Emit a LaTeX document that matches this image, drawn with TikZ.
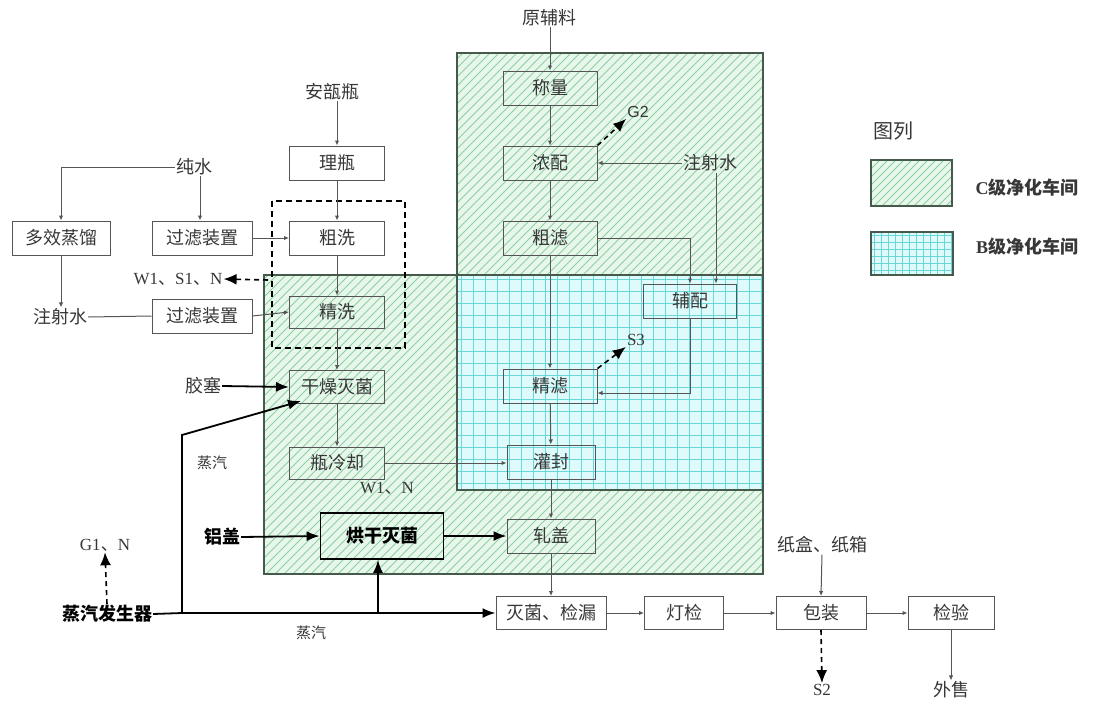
\documentclass[tikz,border=0pt]{standalone}
\usepackage{fontspec}
\setmainfont{Liberation Serif}
\setsansfont{Liberation Sans}
\newfontfamily\cjk{Noto Sans CJK SC}
\usetikzlibrary{arrows.meta}
\definecolor{cfill}{RGB}{232,247,236}
\definecolor{chatch}{RGB}{140,208,155}
\definecolor{bfill}{RGB}{222,250,250}
\definecolor{bgrid}{RGB}{105,215,215}
\definecolor{regc}{RGB}{70,90,75}
\definecolor{boxc}{RGB}{85,85,85}
\definecolor{txtc}{RGB}{55,55,55}
\begin{document}
\begin{tikzpicture}[x=1pt,y=-1pt,
  box/.style={draw=boxc,line width=1pt,inner sep=0pt,minimum height=34pt,text=txtc,font=\cjk\fontsize{18}{18}\selectfont},
  lbl/.style={inner sep=1pt,text=txtc,font=\cjk\fontsize{18}{18}\selectfont},
  small/.style={inner sep=1pt,text=txtc,font=\cjk\fontsize{15}{15}\selectfont},
  latin/.style={inner sep=1pt,text=txtc,font=\rmfamily\fontsize{17}{17}\selectfont},
  bold/.style={inner sep=1pt,text=black,font=\cjk\bfseries\fontsize{18}{18}\selectfont},
  arr/.style={draw=boxc,line width=1pt,-{Latex[length=5pt,width=4.5pt]}},
  thinline/.style={draw=boxc,line width=1pt},
  tarr/.style={draw=black,line width=1.8pt,-{Latex[length=13pt,width=10pt]}},
  darr/.style={draw=black,line width=1.6pt,dashed,dash pattern=on 5pt off 4pt,-{Latex[length=13pt,width=11pt]}},
]
\useasboundingbox (0,0) rectangle (1098,704);
\fill[white] (0,0) rectangle (1098,704);

% ---- C region (green hatched)
\begin{scope}
  \clip (457,53) -- (763,53) -- (763,574) -- (264,574) -- (264,275) -- (457,275) -- cycle;
  \fill[cfill] (250,40) rectangle (780,590);
  \foreach \c in {300,309,...,1350} \draw[chatch,line width=1pt] (\c-620,620) -- (\c-30,30);
\end{scope}
% ---- B region (cyan grid)
\begin{scope}
  \clip (457,275) rectangle (763,490);
  \fill[bfill] (457,275) rectangle (763,490);
  \foreach \x in {461,473,...,763} \draw[bgrid,line width=0.9pt] (\x,275) -- (\x,490);
  \foreach \y in {279,291,...,490} \draw[bgrid,line width=0.9pt] (457,\y) -- (763,\y);
\end{scope}
\draw[regc,line width=1.2pt] (457,53) -- (763,53) -- (763,574) -- (264,574) -- (264,275) -- (457,275) -- cycle;
\draw[regc,line width=1.2pt] (457,275) rectangle (763,490);

% dashed frame around washing
\draw[black,line width=1.3pt,dashed,dash pattern=on 6pt off 4pt] (272,201) rectangle (405,348);

% ---- boxes
\node[box,minimum width=94pt] (cl) at (550,88) {称量};
\node[box,minimum width=94pt] (nd) at (550,163) {浓配};
\node[box,minimum width=94pt] (cu) at (550,238) {粗滤};
\node[box,minimum width=93pt] (fp) at (690,301) {辅配};
\node[box,minimum width=94pt] (jl) at (550,386) {精滤};
\node[box,minimum width=88pt] (gf) at (551,462) {灌封};
\node[box,minimum width=88pt] (zg) at (551,536) {轧盖};
\node[box,minimum width=110pt,minimum height=33pt] (mj) at (551,613) {灭菌、检漏};
\node[box,minimum width=79pt,minimum height=33pt] (dj) at (684,613) {灯检};
\node[box,minimum width=90pt,minimum height=33pt] (bz) at (821,613) {包装};
\node[box,minimum width=86pt,minimum height=33pt] (jy) at (951,613) {检验};
\node[box,minimum width=95pt] (lp) at (337,163) {理瓶};
\node[box,minimum width=95pt] (cx) at (337,238) {粗洗};
\node[box,minimum width=95pt,minimum height=32pt] (jx) at (337,312) {精洗};
\node[box,minimum width=95pt,minimum height=33pt] (gz) at (337,387) {干燥灭菌};
\node[box,minimum width=95pt,minimum height=32pt] (plq) at (337,463) {瓶冷却};
\node[box,draw=black,line width=1.8pt,minimum width=123pt,minimum height=46pt,text=black,font=\cjk\bfseries\fontsize{18}{18}\selectfont] (hg) at (382,536) {烘干灭菌};
\node[box,minimum width=98pt] (dx) at (61,238) {多效蒸馏};
\node[box,minimum width=100pt] (gl1) at (202,238) {过滤装置};
\node[box,minimum width=100pt] (gl2) at (202,316) {过滤装置};

% ---- text labels
\node[lbl] (yfl) at (549,18) {原辅料};
\node[lbl] (aqp) at (332,92) {安瓿瓶};
\node[lbl] (cs) at (194,167) {纯水};
\node[lbl] (zsw1) at (60,317) {注射水};
\node[lbl] (zsw2) at (710,163) {注射水};
\node[latin] (w1) at (178,279) {W1{\cjk 、}S1{\cjk 、}N};
\node[inner sep=1pt,text=txtc,font=\sffamily\fontsize{16}{16}\selectfont] (g2) at (638,112) {G2};
\node[latin] (s3) at (636,340) {S3};
\node[lbl] (js) at (203,386) {胶塞};
\node[small] (zq1) at (212,463) {蒸汽};
\node[latin] (w1n) at (387,488) {W1{\cjk 、}N};
\node[bold] (lg) at (222,537) {铝盖};
\node[latin] (g1) at (105,545) {G1{\cjk 、}N};
\node[bold] (zqf) at (107,614) {蒸汽发生器};
\node[small] (zq2) at (311,633) {蒸汽};
\node[lbl] (zh) at (822,545) {纸盒、纸箱};
\node[latin] (s2) at (822,690) {S2};
\node[lbl] (ws) at (951,690) {外售};

% ---- connectors, right column
\draw[arr] (cl.north |- yfl.south) -- (cl.north);
\draw[arr] (cl) -- (nd);
\draw[arr] (nd) -- (cu);
\draw[arr] (cu) -- (jl);
\draw[arr] (jl) -- (gf);
\draw[arr] (gf) -- (zg);
\draw[arr] (zg) -- (mj);
\draw[darr] (nd.north east) -- (g2.south west);
\draw[arr] (zsw2.west) -- (nd.east);
\draw[arr] ([xshift=6pt]zsw2.south) -- ([xshift=6pt]zsw2.south |- fp.north);
\draw[arr] (cu.east) -| (fp.north);
\draw[arr] (fp.south) |- ([yshift=-7pt]jl.east);
\draw[darr] (jl.north east) -- (s3.south west);
\draw[arr] (plq.east) -- (plq.east -| gf.west);

% ---- left column
\draw[arr] (lp.north |- aqp.south) -- (lp.north);
\draw[arr] (lp) -- (cx);
\draw[arr] (cx) -- (jx);
\draw[arr] (jx) -- (gz);
\draw[arr] (gz) -- (plq);
\draw[arr] (cs.west) -| (dx.north);
\draw[arr] ([xshift=6pt]cs.south) -- ([xshift=6pt]cs.south |- gl1.north);
\draw[arr] (gl1.east) -- (cx.west);
\draw[arr] (dx.south) -- (dx.south |- zsw1.north);
\draw[thinline] (zsw1.east) -- (gl2.west);
\draw[arr] (gl2.east) -- (jx.west);
\coordinate (w1s) at (268,280);
\draw[darr] (w1s) -- (w1.east);
\draw[tarr] (js.east) -- (gz.west);

% ---- steam
\coordinate (j1) at (182,613);
\coordinate (j1b) at (182,435);
\draw[black,line width=1.8pt] (zqf.east) -- (j1);
\draw[tarr] (j1) -- (mj.west);
\draw[tarr] (j1) -- (j1b) -- ([xshift=12pt,yshift=3pt]gz.south west);
\draw[tarr] ([xshift=-4pt]hg.south |- j1) -- ([xshift=-4pt]hg.south);
\draw[darr] (zqf.north) -- (g1.south);
\draw[tarr] (lg.east) -- (hg.west);
\draw[tarr] (hg.east) -- (zg.west);

% ---- bottom row
\draw[arr] (mj) -- (dj);
\draw[arr] (dj) -- (bz);
\draw[arr] (bz) -- (jy);
\draw[arr] (zh.south) -- (bz.north);
\draw[darr] (bz.south) -- (s2.north);
\draw[arr] (jy.south) -- (ws.north);

% ---- legend
\node[inner sep=1pt,text=txtc,font=\cjk\fontsize{20}{20}\selectfont] (tl) at (893,131) {图列};
\begin{scope}
  \clip (871,160) rectangle (952,206);
  \fill[cfill] (871,160) rectangle (952,206);
  \foreach \c in {1000,1008,...,1170} \draw[chatch,line width=1pt] (\c-220,220) -- (\c-150,150);
\end{scope}
\draw[regc,line width=1.2pt] (871,160) rectangle (952,206);
\begin{scope}
  \clip (871,232) rectangle (953,275);
  \fill[bfill] (871,232) rectangle (953,275);
  \foreach \x in {874,881,...,953} \draw[bgrid,line width=0.8pt] (\x,232) -- (\x,275);
  \foreach \y in {235,242,...,275} \draw[bgrid,line width=0.8pt] (871,\y) -- (953,\y);
\end{scope}
\draw[regc,line width=1.2pt] (871,232) rectangle (953,275);
\node[inner sep=1pt,text=txtc,font=\cjk\bfseries\fontsize{18}{18}\selectfont] (lc) at (1027,188) {{\rmfamily C}级净化车间};
\node[inner sep=1pt,text=txtc,font=\cjk\bfseries\fontsize{18}{18}\selectfont] (lb) at (1027,247) {{\rmfamily B}级净化车间};
\end{tikzpicture}
\end{document}
